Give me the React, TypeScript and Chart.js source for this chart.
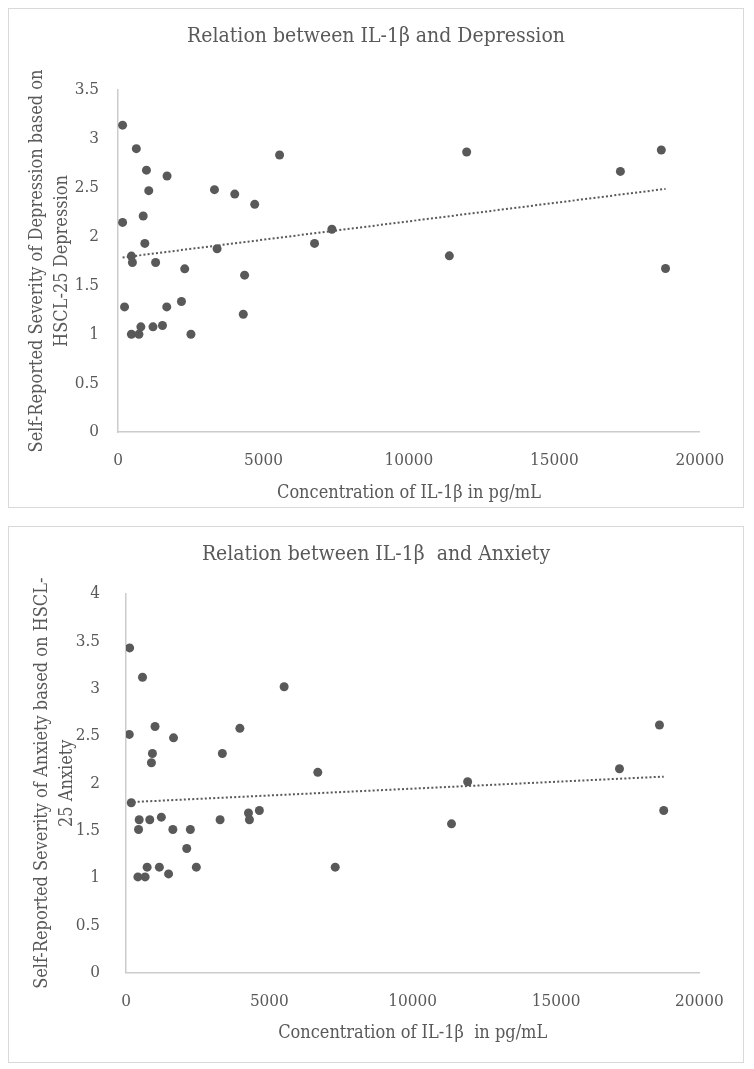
import React, { useEffect, useRef } from "react";
import { Chart, registerables } from "chart.js";

Chart.register(...registerables);

const FONT = '"DejaVu Serif Condensed", "Liberation Serif", serif';
const TEXT_COLOR = "#595959";
const POINT_COLOR = "#595959";
const AXIS_COLOR = "#cccccc";

// ---- Depression chart data ----
const depTitle = "Relation between IL-1β and Depression";
const depYTitle = ["Self-Reported Severity of Depression based on", "HSCL-25 Depression"];
const depXTitle = "Concentration of IL-1β in pg/mL";
const depX = [158, 630, 978, 1686, 1057, 3316, 4013, 4699, 5554, 158, 866, 922, 461, 495, 1293, 3406, 2293, 4351, 6756, 7352, 225, 1675, 2181, 461, 719, 786, 1203, 1529, 2507, 4306, 11984, 17268, 18674, 11389, 18820];
const depY = [3.14, 2.9, 2.68, 2.62, 2.47, 2.48, 2.435, 2.33, 2.835, 2.145, 2.21, 1.93, 1.8, 1.735, 1.735, 1.875, 1.67, 1.605, 1.93, 2.075, 1.28, 1.28, 1.335, 1.0, 1.0, 1.076, 1.076, 1.09, 1.0, 1.205, 2.865, 2.667, 2.886, 1.803, 1.673];
const depTrendX = [158, 18820];
const depTrendY = [1.786, 2.488];
const depYTicksMax = 3.5;

// ---- Anxiety chart data ----
const anxTitle = "Relation between IL-1β  and Anxiety";
const anxYTitle = ["Self-Reported Severity of Anxiety based on HSCL-", "25 Anxiety"];
const anxXTitle = "Concentration of IL-1β  in pg/mL";
const anxX = [127, 576, 5516, 115, 1013, 1658, 3972, 922, 887, 3361, 6690, 184, 460, 438, 829, 1233, 1634, 2245, 2118, 3282, 4272, 4306, 4652, 415, 667, 737, 1164, 1485, 2453, 7298, 11917, 17213, 18608, 11354, 18756];
const anxY = [3.43, 3.12, 3.02, 2.516, 2.6, 2.48, 2.58, 2.315, 2.217, 2.315, 2.115, 1.794, 1.614, 1.511, 1.614, 1.642, 1.511, 1.511, 1.31, 1.614, 1.685, 1.614, 1.712, 1.01, 1.01, 1.113, 1.113, 1.042, 1.113, 1.113, 2.016, 2.153, 2.616, 1.571, 1.712];
const anxTrendX = [115, 18756];
const anxTrendY = [1.8, 2.07];
const anxYTicksMax = 4;

const xMax = 20000;
const xStep = 5000;
const yStep = 0.5;

type Layout = {
  width: number;
  height: number;
  yWidth: number;
  xHeight: number;
  padRight: number;
  titlePadTop: number;
  titlePadBottom: number;
  yTickPad: number;
  yTitlePad: number;
  xTickPad: number;
  xTitlePadBottom: number;
};

function makeConfig(
  title: string,
  yTitle: string[],
  xTitle: string,
  xs: number[],
  ys: number[],
  tx: number[],
  ty: number[],
  yMax: number,
  L: Layout
): any {
  const pts = xs.map((x, i) => ({ x, y: ys[i] }));
  const trend = tx.map((x, i) => ({ x, y: ty[i] }));
  return {
    type: "scatter",
    data: {
      datasets: [
        {
          data: trend,
          showLine: true,
          borderColor: POINT_COLOR,
          borderWidth: 2,
          borderDash: [2, 2.2],
          pointRadius: 0,
          fill: false,
        },
        {
          data: pts,
          showLine: false,
          pointRadius: 4.5,
          pointBackgroundColor: POINT_COLOR,
          pointBorderWidth: 0,
          pointBorderColor: POINT_COLOR,
        },
      ],
    },
    options: {
      animation: false,
      responsive: false,
      devicePixelRatio: 1,
      layout: { padding: 0 },
      plugins: {
        legend: { display: false },
        tooltip: { enabled: false },
        title: {
          display: true,
          text: title,
          color: TEXT_COLOR,
          font: { family: FONT, size: 21, weight: "normal", lineHeight: 1.2 },
          padding: { top: L.titlePadTop, bottom: L.titlePadBottom },
        },
      },
      scales: {
        x: {
          type: "linear",
          min: 0,
          max: xMax,
          grid: { display: false, drawTicks: false },
          border: { display: true, color: AXIS_COLOR, width: 1.5 },
          ticks: {
            stepSize: xStep,
            color: TEXT_COLOR,
            padding: L.xTickPad,
            font: { family: FONT, size: 17, lineHeight: 1.2 },
            callback: (v: any) => String(v),
            maxRotation: 0,
          },
          title: {
            display: true,
            text: xTitle,
            color: TEXT_COLOR,
            font: { family: FONT, size: 18, lineHeight: 1.2 },
            padding: { top: 0, bottom: L.xTitlePadBottom },
          },
          afterFit: (s: any) => {
            s.height = L.xHeight;
          },
        },
        y: {
          type: "linear",
          min: 0,
          max: yMax,
          grid: { display: false, drawTicks: false },
          border: { display: true, color: AXIS_COLOR, width: 1.5 },
          ticks: {
            stepSize: yStep,
            color: TEXT_COLOR,
            padding: L.yTickPad,
            font: { family: FONT, size: 17, lineHeight: 1.2 },
            callback: (v: any) => String(v),
          },
          title: {
            display: true,
            text: yTitle,
            color: TEXT_COLOR,
            font: { family: FONT, size: 18, lineHeight: "25px" },
            padding: { top: L.yTitlePad, bottom: 0 },
          },
          afterFit: (s: any) => {
            s.width = L.yWidth;
          },
        },
        // invisible spacer on the right so the title stays centred on the frame
        spacer: {
          type: "linear",
          position: "right",
          min: 0,
          max: 1,
          grid: { display: false, drawTicks: false },
          border: { display: false },
          ticks: { display: false },
          title: { display: false },
          afterFit: (s: any) => {
            s.width = L.padRight;
          },
        },
      },
    },
  };
}

function ChartBox(props: { config: () => any; width: number; height: number; marginTop: number }) {
  const ref = useRef<HTMLCanvasElement | null>(null);
  useEffect(() => {
    if (!ref.current) return;
    const chart = new Chart(ref.current, props.config());
    return () => chart.destroy();
  }, []);
  return (
    <div
      style={{
        border: "1px solid #d9d9d9",
        width: props.width,
        height: props.height,
        marginTop: props.marginTop,
        background: "#ffffff",
      }}
    >
      <canvas ref={ref} width={props.width} height={props.height} style={{ display: "block" }} />
    </div>
  );
}

const topLayout: Layout = {
  width: 734,
  height: 498,
  yWidth: 109,
  xHeight: 75,
  padRight: 32,
  titlePadTop: 15.4,
  titlePadBottom: 40.4,
  yTickPad: 19,
  yTitlePad: 15.5,
  xTickPad: 18.8,
  xTitlePadBottom: 2.5,
};

const bottomLayout: Layout = {
  width: 734,
  height: 535,
  yWidth: 117,
  xHeight: 89.5,
  padRight: 38,
  titlePadTop: 15.4,
  titlePadBottom: 26.4,
  yTickPad: 26,
  yTitlePad: 20.5,
  xTickPad: 19.3,
  xTitlePadBottom: 18.3,
};

export default function App() {
  return (
    <div>
      <ChartBox
        width={topLayout.width}
        height={topLayout.height}
        marginTop={0}
        config={() =>
          makeConfig(depTitle, depYTitle, depXTitle, depX, depY, depTrendX, depTrendY, depYTicksMax, topLayout)
        }
      />
      <ChartBox
        width={bottomLayout.width}
        height={bottomLayout.height}
        marginTop={18}
        config={() =>
          makeConfig(anxTitle, anxYTitle, anxXTitle, anxX, anxY, anxTrendX, anxTrendY, anxYTicksMax, bottomLayout)
        }
      />
    </div>
  );
}
